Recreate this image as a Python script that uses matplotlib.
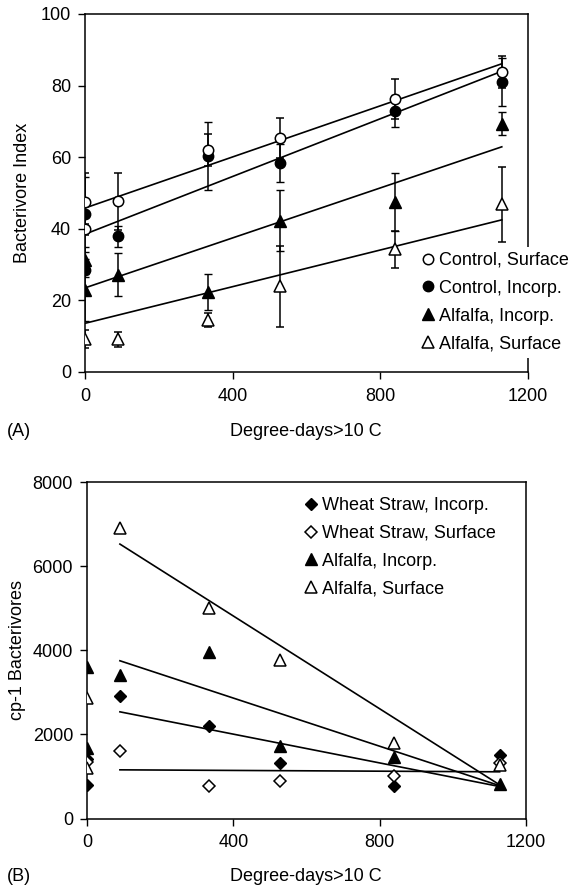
import numpy as np
import matplotlib
matplotlib.use('Agg')
import matplotlib.pyplot as plt
from matplotlib.lines import Line2D

plt.rcParams['font.family'] = ['Liberation Sans', 'DejaVu Sans']
FS = 13

# ---- panel A data: bacterivore index (means +/- SE) ----
cs_x = [0, 0, 90, 333, 529, 840, 1129]
cs_y = [47.6, 39.9, 47.7, 62.0, 65.4, 76.3, 83.8]
cs_err = [8.0, 1.5, 8.0, 4.4, 5.5, 5.5, 4.5]

ci_x = [0, 0, 90, 333, 529, 840, 1129]
ci_y = [44.1, 28.6, 37.9, 60.3, 58.4, 73.0, 81.0]
ci_err = [10.5, 2.0, 3.0, 9.4, 5.4, 4.5, 6.8]

ai_x = [0, 0, 90, 333, 529, 840, 1129]
ai_y = [31.2, 23.0, 27.2, 22.3, 42.3, 47.4, 69.3]
ai_err = [3.8, 8.7, 6.1, 5.1, 8.4, 8.1, 3.2]

as_x = [0, 90, 333, 529, 840, 1129]
as_y = [9.2, 9.2, 14.5, 23.9, 34.3, 46.8]
as_err = [2.6, 2.1, 2.0, 11.3, 5.2, 10.6]

# fitted lines (start/end values)
fitA_x = [0, 1129]
fitA_cs = [45.8, 86.1]
fitA_ci = [38.5, 84.0]
fitA_ai = [23.5, 62.9]
fitA_as = [13.6, 42.5]

# ---- panel B data: cp-1 bacterivores ----
wi_x = [0, 0, 90, 334, 528, 840, 1128]
wi_y = [1420, 800, 2920, 2190, 1320, 780, 1500]

ws_x = [0, 90, 334, 528, 840, 1128]
ws_y = [1340, 1595, 780, 900, 1000, 1330]

bi_x = [0, 0, 90, 334, 528, 840, 1128]
bi_y = [3600, 1670, 3400, 3950, 1720, 1460, 820]

bs_x = [0, 0, 90, 334, 528, 840, 1128]
bs_y = [2860, 1210, 6910, 5010, 3780, 1800, 1270]

fitB_x = [90, 1128]
fitB_wi = [2536, 760]
fitB_ws = [1157, 1110]
fitB_bi = [3750, 780]
fitB_bs = [6524, 800]

W, H = 571, 888
fig = plt.figure(figsize=(W / 100, H / 100), dpi=100)


def px_axes(l, t, r, b):
    return fig.add_axes([l / W, 1 - b / H, (r - l) / W, (b - t) / H])


def style(ax):
    ax.tick_params(direction='out', length=5, width=1, labelsize=FS)
    ax.tick_params(axis='x', pad=6.5, top=False)
    ax.tick_params(axis='y', pad=5, right=False)
    for s in ax.spines.values():
        s.set_linewidth(1.1)


open_kw = dict(mfc='white', mec='black', mew=1.1)
fill_kw = dict(mfc='black', mec='black', mew=1.0)
eb_kw = dict(ecolor='black', elinewidth=1.1, capsize=3.2, capthick=1.1, ls='none', zorder=3)

# ---------------- panel A ----------------
axA = px_axes(85, 14, 528, 372)
style(axA)
for fy in [fitA_cs, fitA_ci, fitA_ai, fitA_as]:
    axA.plot(fitA_x, fy, color='black', lw=1.2, zorder=2)
axA.errorbar(as_x, as_y, yerr=as_err, fmt='^', ms=8, **open_kw, **eb_kw)
axA.errorbar(ai_x, ai_y, yerr=ai_err, fmt='^', ms=8, **fill_kw, **eb_kw)
axA.errorbar(ci_x, ci_y, yerr=ci_err, fmt='o', ms=7.5, **fill_kw, **eb_kw)
axA.errorbar(cs_x, cs_y, yerr=cs_err, fmt='o', ms=7.5, **open_kw, **eb_kw)
axA.set_xlim(0, 1200)
axA.set_ylim(0, 100)
axA.set_xticks([0, 400, 800, 1200])
axA.set_yticks([0, 20, 40, 60, 80, 100])

hA = [Line2D([], [], ls='none', marker='o', ms=7.5, **open_kw),
      Line2D([], [], ls='none', marker='o', ms=7.5, **fill_kw),
      Line2D([], [], ls='none', marker='^', ms=8, **fill_kw),
      Line2D([], [], ls='none', marker='^', ms=8, **open_kw)]
legA = axA.legend(hA, ['Control, Surface', 'Control, Incorp.', 'Alfalfa, Incorp.', 'Alfalfa, Surface'],
                  loc='center left', bbox_to_anchor=(0.745, 0.195), fontsize=FS,
                  handlelength=0.8, handletextpad=0.2, labelspacing=0.6,
                  borderpad=0.3, borderaxespad=0, frameon=True, fancybox=False)
legA.get_frame().set_facecolor('white')
legA.get_frame().set_edgecolor('none')
legA.get_frame().set_alpha(1)
legA.set_zorder(5)

# ---------------- panel B ----------------
axB = px_axes(87, 482, 526, 818.5)
style(axB)
for fy in [fitB_bs, fitB_bi, fitB_wi, fitB_ws]:
    axB.plot(fitB_x, fy, color='black', lw=1.2, zorder=2)
axB.plot(wi_x, wi_y, 'D', ms=6.5, ls='none', **fill_kw, zorder=3)
axB.plot(ws_x, ws_y, 'D', ms=6.5, ls='none', **open_kw, zorder=3)
axB.plot(bi_x, bi_y, '^', ms=8, ls='none', **fill_kw, zorder=3)
axB.plot(bs_x, bs_y, '^', ms=8, ls='none', **open_kw, zorder=3)
axB.set_xlim(0, 1200)
axB.set_ylim(0, 8000)
axB.set_xticks([0, 400, 800, 1200])
axB.set_yticks([0, 2000, 4000, 6000, 8000])

hB = [Line2D([], [], ls='none', marker='D', ms=6.5, **fill_kw),
      Line2D([], [], ls='none', marker='D', ms=6.5, **open_kw),
      Line2D([], [], ls='none', marker='^', ms=8, **fill_kw),
      Line2D([], [], ls='none', marker='^', ms=8, **open_kw)]
axB.legend(hB, ['Wheat Straw, Incorp.', 'Wheat Straw, Surface', 'Alfalfa, Incorp.', 'Alfalfa, Surface'],
           loc='center left', bbox_to_anchor=(0.481, 0.806), fontsize=FS,
           handlelength=0.8, handletextpad=0.2, labelspacing=0.6,
           borderpad=0.3, borderaxespad=0, frameon=False)

# ---------------- labels ----------------
def ftext(x, y, s, **kw):
    fig.text(x / W, 1 - y / H, s, fontsize=FS, va='center', **kw)


ftext(306, 431, 'Degree-days>10 C', ha='center')
ftext(7, 431, '(A)', ha='left')
ftext(23, 193, 'Bacterivore Index', ha='center', rotation=90)

ftext(306, 876, 'Degree-days>10 C', ha='center')
ftext(7, 876, '(B)', ha='left')
ftext(18, 650, 'cp-1 Bacterivores', ha='center', rotation=90)

fig.savefig('out.png', dpi=100)
